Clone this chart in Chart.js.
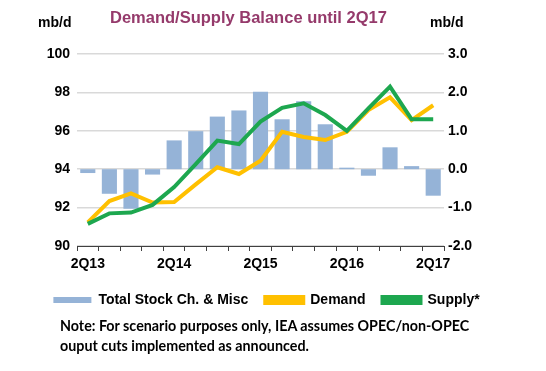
<!DOCTYPE html>
<html>
<head>
<meta charset="utf-8">
<script src="https://cdn.jsdelivr.net/npm/chart.js@4.4.1/dist/chart.umd.min.js"></script>
<style>
    body { margin: 0; background: #fff; }
    #wrap { position: relative; width: 546px; height: 371px; font-family: Arial, "Liberation Sans", sans-serif; }
    #box { position: absolute; left: 0; top: 0; width: 546px; height: 317px; }
    .lbl { position: absolute; font-weight: bold; white-space: nowrap; }
    #title { left: 110px; top: 8px; font-size: 16.5px; color: #953a6b; }
    #unitL { left: 38px; top: 14px; font-size: 14px; color: #000; }
    #unitR { left: 430px; top: 14px; font-size: 14px; color: #000; }
    #note { left: 60px; top: 316px; font-family: Lato, sans-serif; font-size: 14.3px; line-height: 20px; color: #000; }
</style>
</head>
<body>
<div id="wrap">
    <div id="box"><canvas id="chart0"></canvas></div>
    <div class="lbl" id="title">Demand/Supply Balance until 2Q17</div>
    <div class="lbl" id="unitL">mb/d</div>
    <div class="lbl" id="unitR">mb/d</div>
    <div class="lbl" id="note">Note: For scenario purposes only, IEA assumes OPEC/non-OPEC<br>ouput cuts implemented as announced.</div>
</div>
<script>
const quarters = [
    "2Q13", "3Q13", "4Q13", "1Q14", "2Q14", "3Q14", "4Q14", "1Q15", "2Q15",
    "3Q15", "4Q15", "1Q16", "2Q16", "3Q16", "4Q16", "1Q17", "2Q17",
];
const stockChange = [
    -0.10, -0.64, -1.03, -0.14, 0.75, 0.99, 1.37, 1.53, 2.02,
    1.30, 1.77, 1.17, 0.04, -0.17, 0.57, 0.08, -0.69,
];
const demand = [
    91.23, 92.34, 92.74, 92.26, 92.29, 93.21, 94.10, 93.75, 94.44,
    95.95, 95.68, 95.52, 95.95, 97.08, 97.74, 96.56, 97.33,
];
const supply = [
    91.15, 91.70, 91.74, 92.14, 93.07, 94.27, 95.49, 95.31, 96.48,
    97.20, 97.43, 96.82, 96.00, 97.17, 98.30, 96.60, 96.60,
];
const shownQuarters = ["2Q13", "2Q14", "2Q15", "2Q16", "2Q17"];

const tickFont = { family: "Arial, 'Liberation Sans', sans-serif", size: 14, weight: "bold" };

const ctx = document.getElementById("chart0").getContext("2d");
window.chart = new Chart(ctx, {
    data: {
        labels: quarters,
        datasets: [
            {
                type: "bar",
                label: "Total Stock Ch. & Misc",
                data: stockChange,
                yAxisID: "yR",
                backgroundColor: "#95b3d7",
                borderWidth: 0,
                barPercentage: 0.7,
                categoryPercentage: 1.0,
                order: 3,
            },
            {
                type: "line",
                label: "Demand",
                data: demand,
                yAxisID: "yL",
                borderColor: "#ffc000",
                backgroundColor: "#ffc000",
                borderWidth: 4,
                pointRadius: 0,
                tension: 0,
                order: 2,
            },
            {
                type: "line",
                label: "Supply*",
                data: supply,
                yAxisID: "yL",
                borderColor: "#1da74f",
                backgroundColor: "#1da74f",
                borderWidth: 4,
                pointRadius: 0,
                tension: 0,
                order: 1,
            },
        ],
    },
    options: {
        responsive: true,
        maintainAspectRatio: false,
        animation: false,
        // right padding nudges the legend left; yR width makes up for it
        layout: { padding: { top: 54, left: 0, right: 13, bottom: 0 } },
        scales: {
            x: {
                offset: true,
                afterFit: (s) => { s.height = 30; },
                grid: {
                    offset: true,
                    drawOnChartArea: false,
                    tickLength: 5,
                    color: "#404040",
                },
                border: { color: "#404040", width: 1 },
                ticks: {
                    autoSkip: false,
                    maxRotation: 0,
                    color: "#000",
                    font: tickFont,
                    padding: 5,
                    callback: function (v, i) {
                        const q = quarters[i];
                        return shownQuarters.includes(q) ? q : "";
                    },
                },
            },
            yL: {
                position: "left",
                min: 90,
                max: 100,
                afterFit: (s) => { s.width = 77; },
                border: { display: false },
                grid: { color: "#d9d9d9", lineWidth: 1.5, drawTicks: false },
                ticks: { stepSize: 2, color: "#000", font: tickFont, padding: 7 },
            },
            yR: {
                position: "right",
                min: -2,
                max: 3,
                afterFit: (s) => { s.width = 89; },
                border: { display: false },
                grid: { display: false, drawTicks: false },
                ticks: {
                    stepSize: 1,
                    color: "#000",
                    font: tickFont,
                    padding: 4,
                    callback: (v) => v.toFixed(1),
                },
            },
        },
        plugins: {
            legend: {
                position: "bottom",
                labels: {
                    color: "#000",
                    font: { family: "Arial, 'Liberation Sans', sans-serif", size: 14, weight: "bold" },
                    boxWidth: 38,
                    boxHeight: 6,
                    padding: 17,
                    sort: (a, b) => a.datasetIndex - b.datasetIndex,
                },
            },
            tooltip: { enabled: false },
        },
    },
});
</script>
</body>
</html>
